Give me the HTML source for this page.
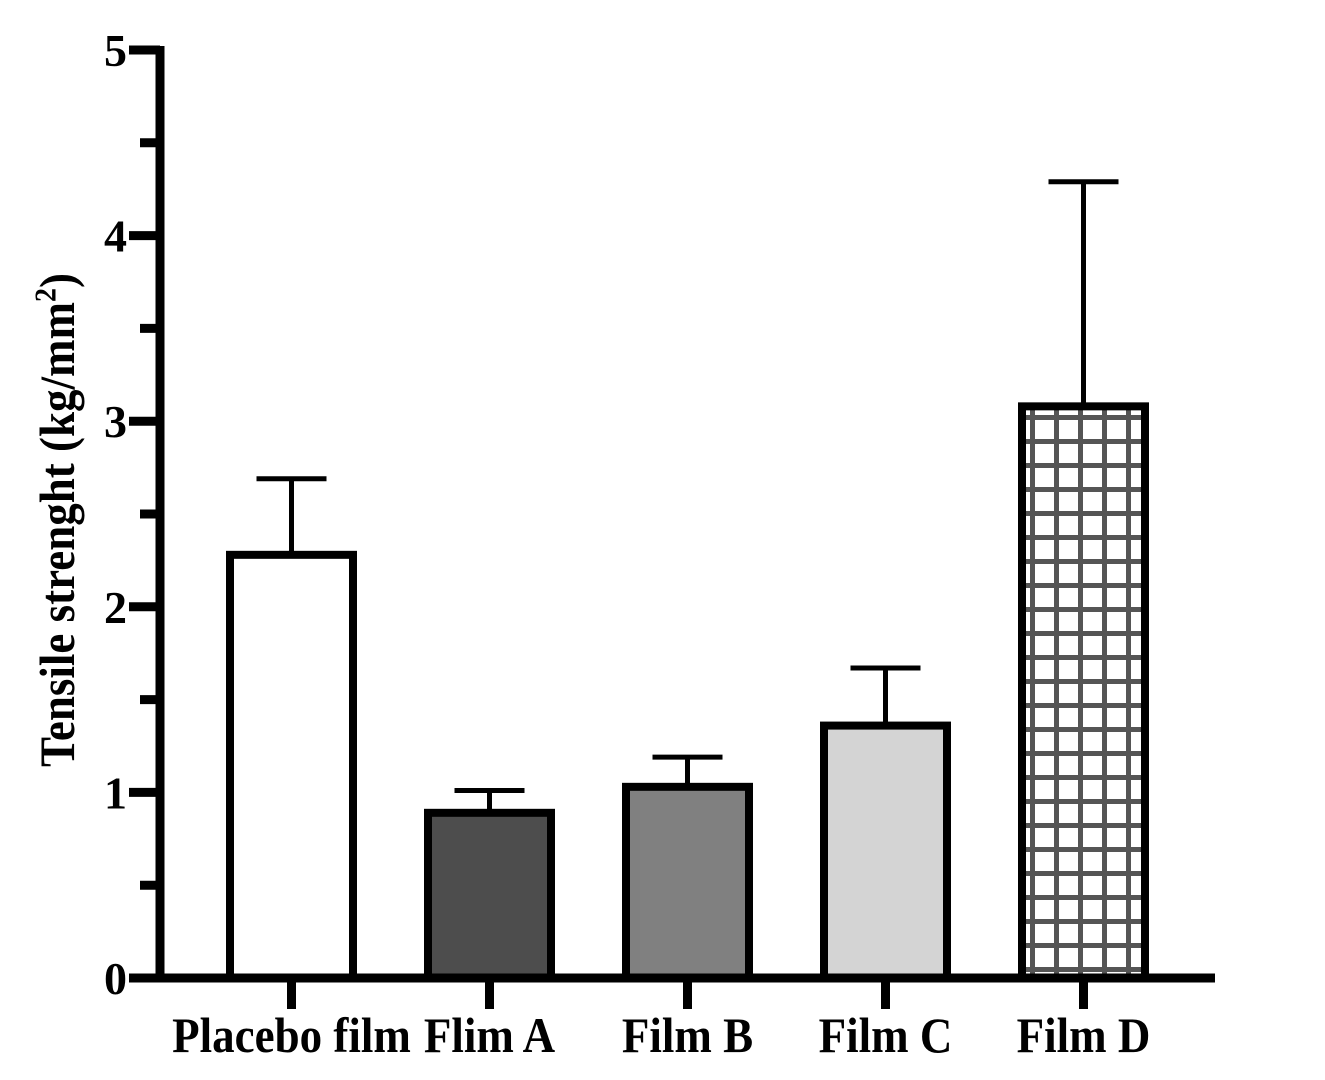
<!DOCTYPE html>
<html><head><meta charset="utf-8"><style>body{margin:0;background:#fff}</style></head>
<body>
<svg id="chart" width="1325" height="1075" xmlns="http://www.w3.org/2000/svg" font-family="Liberation Serif, serif" font-weight="bold">
<defs>
<pattern id="grid" patternUnits="userSpaceOnUse" width="24" height="24" x="1030" y="415">
<rect width="24" height="24" fill="#fff"/>
<rect x="0" y="0" width="5" height="24" fill="#555"/>
<rect x="0" y="0" width="24" height="5" fill="#555"/>
</pattern>
</defs>
<g id="bars"></g>
<g id="axes"></g>
<text transform="translate(74,520) rotate(-90) scale(1,1.1)" text-anchor="middle" font-size="45">Tensile strenght (kg/mm<tspan font-size="28" dy="-17">2</tspan><tspan dy="17">)</tspan></text>
</svg>
<script>
const categories = ["Placebo film","Flim A","Film B","Film C","Film D"];
const values = [2.28, 0.89, 1.03, 1.36, 3.08];
const errors = [0.41, 0.12, 0.16, 0.31, 1.21];
const fills = ["#ffffff","#4d4d4d","#808080","#d4d4d4","url(#grid)"];
const yTicks = [0,1,2,3,4,5];
const yMinor = [0.5,1.5,2.5,3.5,4.5];
const NS="http://www.w3.org/2000/svg";
const y0=978, unit=185.6, x0=160, step=198, firstC=291.5, bw=123;
const yS=v=>y0-v*unit;
const xS=i=>firstC+i*step;
function mk(tag,attrs,parent){const e=document.createElementNS(NS,tag);for(const k in attrs)e.setAttribute(k,attrs[k]);parent.appendChild(e);return e;}
const gb=document.getElementById('bars'), ga=document.getElementById('axes');
categories.forEach((c,i)=>{
  const cx=xS(i), top=yS(values[i]), et=yS(values[i]+errors[i]);
  const eb=mk('line',{x1:cx,x2:cx,y1:top,y2:et,stroke:'#000','stroke-width':5},gb);
  
  
  const cap=mk('line',{x1:cx-35,x2:cx+35,y1:et,y2:et,stroke:'#000','stroke-width':5},gb);
  
  
  const r=mk('rect',{x:cx-bw/2,y:top,width:bw,height:y0-top,fill:fills[i],stroke:'#000','stroke-width':8},gb);
  
  
  const t=mk('line',{x1:cx,x2:cx,y1:y0,y2:1009,stroke:'#000','stroke-width':9},ga);
  
  
  const l=mk('text',{x:cx,y:1052,'text-anchor':'middle','font-size':45,transform:`translate(0,${1052*-0.1}) scale(1,1.1)`},ga);
  l.textContent=c;
  
  
});
const ya=mk('line',{x1:x0,x2:x0,y1:yS(5)-4,y2:y0+4,stroke:'#000','stroke-width':9},ga);


const xa=mk('line',{x1:129,x2:1215,y1:y0,y2:y0,stroke:'#000','stroke-width':9},ga);


yTicks.forEach(v=>{
  const t=mk('line',{x1:129,x2:x0,y1:yS(v),y2:yS(v),stroke:'#000','stroke-width':9},ga);
  
  
  const l=mk('text',{x:127,y:yS(v)+16,'text-anchor':'end','font-size':46},ga);
  l.textContent=v;
  
  
});
yMinor.forEach(v=>{
  const t=mk('line',{x1:140,x2:x0,y1:yS(v),y2:yS(v),stroke:'#000','stroke-width':9},ga);
  
  
});
</script>
</body></html>
